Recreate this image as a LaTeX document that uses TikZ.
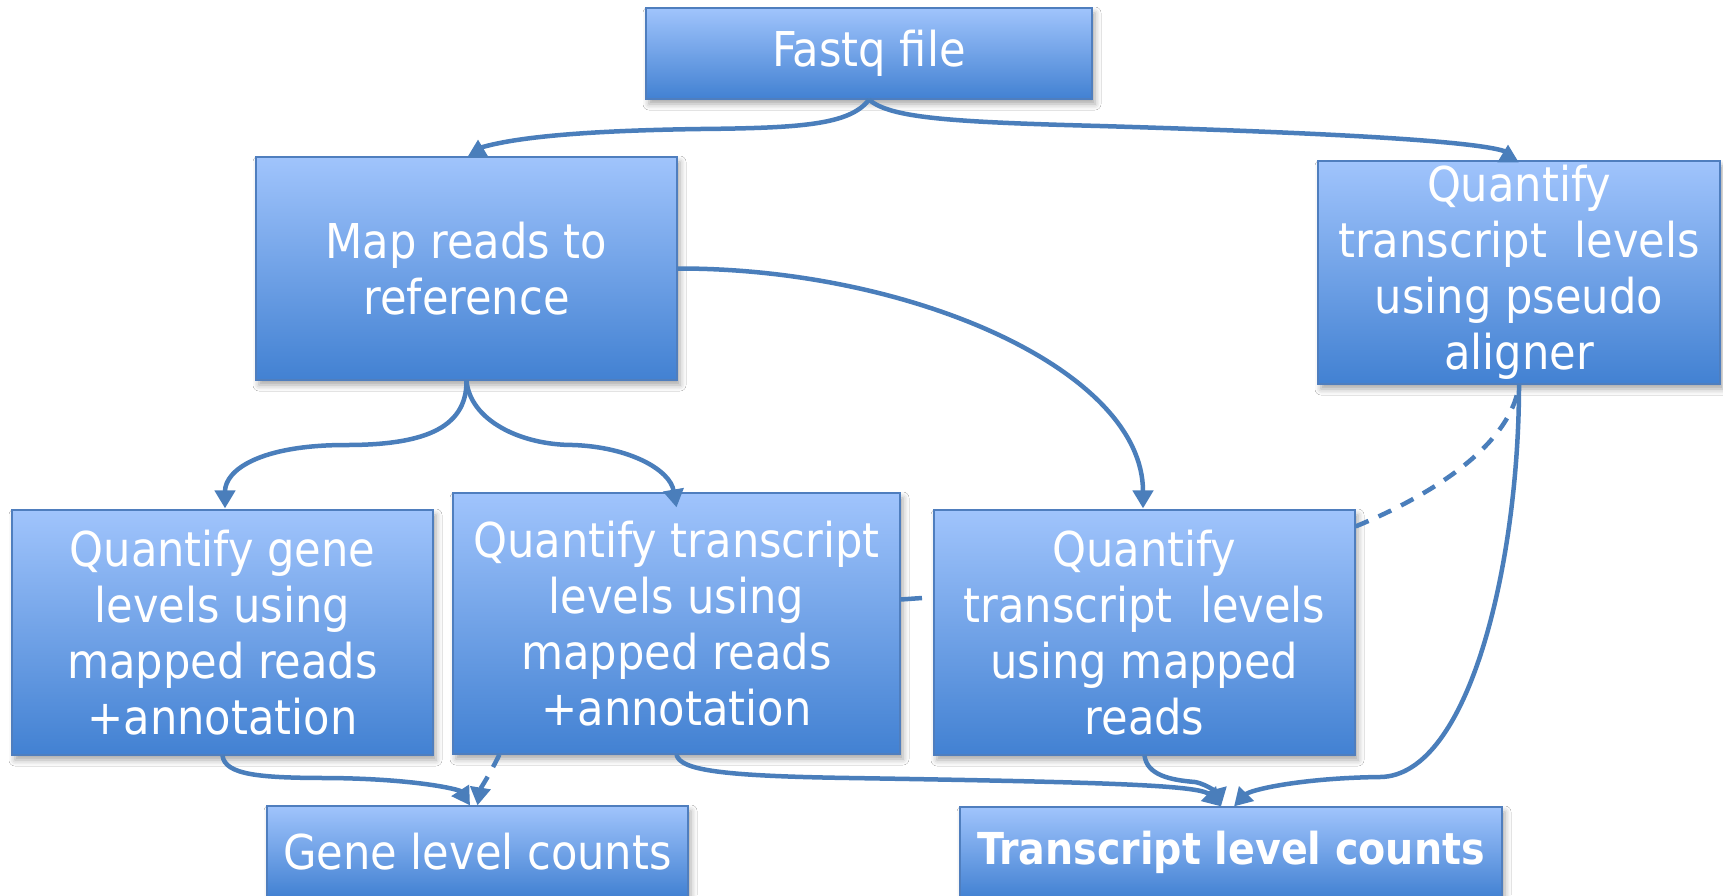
\documentclass[tikz,border=0pt]{standalone}
\usepackage{fontspec}
\setmainfont{DejaVu Sans Condensed}
\usetikzlibrary{arrows.meta,shadows.blur}

\definecolor{boxtop}{RGB}{160,196,252}
\definecolor{boxbot}{RGB}{66,129,210}
\definecolor{boxedge}{RGB}{79,126,190}
\definecolor{linkblue}{RGB}{74,126,187}

\tikzset{
  box/.style={draw=boxedge, line width=1.2pt, top color=boxtop, bottom color=boxbot,
    text=white, align=center, inner sep=0pt, font=\fontsize{48}{56}\selectfont,
    blur shadow={shadow xshift=3pt, shadow yshift=-5pt, shadow blur radius=6pt, shadow opacity=35}},
  link/.style={draw=linkblue, line width=4.5pt, -{Triangle[length=18pt,width=20pt]}},
  dlink/.style={link, dash pattern=on 14pt off 11pt},
  plainlink/.style={draw=linkblue, line width=4.5pt}
}

\begin{document}
\begin{tikzpicture}[x=1pt,y=-1pt]
\path[use as bounding box, clip] (0,0) rectangle (1723,895);
\fill[white] (0,0) rectangle (1723,895);

% process boxes
\node[box, minimum width=446pt, minimum height=91pt] (fastq) at (869,53.5) {Fastq file};
\node[box, minimum width=421pt, minimum height=223pt] (map) at (466.5,268.5) {Map reads to\\reference};
\node[box, minimum width=402pt, minimum height=223pt] (pseudo) at (1519,272.5)
  {Quantify\\transcript~ levels\\using pseudo\\aligner};
\node[box, minimum width=421pt, minimum height=245pt] (gene) at (222.5,632.5)
  {Quantify gene\\levels using\\mapped reads\\+annotation};
\node[box, minimum width=447pt, minimum height=261pt] (tannot) at (676.5,623.5)
  {Quantify transcript\\levels using\\mapped reads\\+annotation};
\node[box, minimum width=421pt, minimum height=245pt] (tmapped) at (1144.5,632.5)
  {Quantify\\transcript~ levels\\using mapped\\reads};
\node[box, minimum width=421pt, minimum height=91pt] (genecounts) at (477.5,851.5) {Gene level counts};
\node[box, minimum width=542pt, minimum height=91pt, font=\fontsize{44}{54}\selectfont\bfseries]
  (txcounts) at (1231,852.5) {Transcript level counts};

\coordinate (stub) at (922,598);

% connectors from the fastq file: the tips stand upright on the box tops
\draw[link] (fastq.south) .. controls (850,125) and (800,128) .. (700,129)
  .. controls (560,131) and (505,140) .. ([xshift=11.5pt,yshift=8pt]map.north)
  -- ([xshift=11.5pt,yshift=17pt]map.north);
\draw[link] (fastq.south) .. controls (890,118) and (950,122) .. (1100,126)
  .. controls (1300,132) and (1480,140) .. ([xshift=-11pt,yshift=8pt]pseudo.north)
  -- ([xshift=-11pt,yshift=16pt]pseudo.north);

\draw[link] (map.east) .. controls (910,268) and (1143,370) .. ([xshift=-1.5pt,yshift=1pt]tmapped.north);
\draw[link] (map.south) .. controls (467,430) and (420,445) .. (346,445)
  .. controls (260,445) and (225,470) .. ([xshift=2.5pt,yshift=1pt]gene.north);
\draw[link] (map.south) .. controls (470,420) and (520,445) .. (573,445)
  .. controls (630,447) and (670,470) .. ([yshift=-15pt]tannot.north);
\draw[link] (gene.south) .. controls (225,775) and (260,778) .. (330,778)
  .. controls (420,779) and (460,790) .. ([xshift=-7.5pt]genecounts.north);
\draw[dlink] ([xshift=47pt]tannot.south west) .. controls (492,770) and (480,790) .. (genecounts.north);
\draw[link] (tannot.south) .. controls (680,770) and (720,776) .. (850,778)
  .. controls (1100,782) and (1200,785) .. ([xshift=-10pt]txcounts.north);
\draw[link] (tmapped.south) .. controls (1147,775) and (1170,780) .. (1195,782)
  .. controls (1210,785) and (1218,795) .. ([xshift=-10pt]txcounts.north);
\draw[link] (pseudo.south) .. controls (1519,560) and (1470,776) .. (1380,777)
  .. controls (1300,778) and (1250,790) .. ([xshift=3pt]txcounts.north);
\draw[plainlink, dash pattern=on 14pt off 11pt] ([yshift=-17pt]tmapped.north east)
  .. controls (1420,500) and (1510,450) .. (pseudo.south);
\draw[plainlink] ([yshift=24pt]tannot.east) -- (stub);
\end{tikzpicture}
\end{document}
